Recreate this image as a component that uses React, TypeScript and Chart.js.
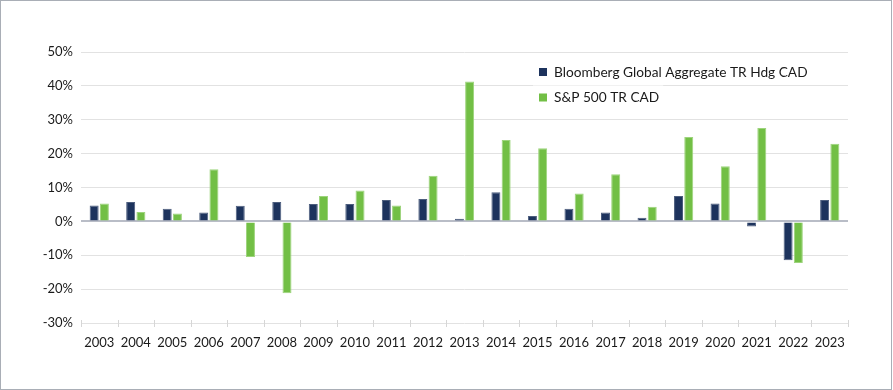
import React, { useEffect, useRef } from "react";
import { Chart, registerables } from "chart.js";

Chart.register(...registerables);

const years = ["2003","2004","2005","2006","2007","2008","2009","2010","2011","2012","2013","2014","2015","2016","2017","2018","2019","2020","2021","2022","2023"];
const bloombergLabel = "Bloomberg Global Aggregate TR Hdg CAD";
const spLabel = "S&P 500 TR CAD";
const bloomberg = [4.7, 5.7, 3.7, 2.6, 4.6, 5.7, 5.1, 5.1, 6.3, 6.6, 0.8, 8.6, 1.6, 3.7, 2.6, 1.1, 7.5, 5.3, -1.5, -11.5, 6.3];
const sp500 = [5.3, 2.8, 2.3, 15.4, -10.5, -21.2, 7.5, 9.1, 4.7, 13.5, 41.3, 24.0, 21.6, 8.2, 13.9, 4.3, 24.9, 16.3, 27.6, -12.3, 22.9];
const yMin = -30;
const yMax = 50;
const yStep = 10;

const FONT = "Lato, 'Open Sans', sans-serif";
const NAVY = "#1d335d";
const GREEN = "#72bf45";

const legendPlugin = {
  id: "insideLegend",
  afterDatasetsDraw(chart: any) {
    const ctx = chart.ctx;
    const x0 = 539;
    const y0 = 72;
    const gap = 25.5;
    ctx.save();
    ctx.font = `13.7px ${FONT}`;
    ctx.textBaseline = "middle";
    chart.data.datasets.forEach((ds: any, i: number) => {
      const y = y0 + i * gap;
      const tw = ctx.measureText(ds.label).width;
      ctx.fillStyle = "#ffffff";
      ctx.fillRect(x0 - 6, y - 12, 15 + tw + 10, 24);
      ctx.fillStyle = ds.backgroundColor;
      ctx.fillRect(x0, y - 4, 8, 8);
      ctx.fillStyle = "#1a1a1a";
      ctx.fillText(ds.label, x0 + 15, y + 0.5);
    });
    ctx.restore();
  },
};

const tickPlugin = {
  id: "boundaryTicks",
  afterDraw(chart: any) {
    const { ctx, chartArea } = chart;
    const n = chart.data.labels.length;
    const w = (chartArea.right - chartArea.left) / n;
    ctx.save();
    ctx.strokeStyle = "#d6d6d6";
    ctx.lineWidth = 1;
    for (let i = 0; i <= n; i++) {
      const x = Math.round(chartArea.left + i * w) + 0.5;
      ctx.beginPath();
      ctx.moveTo(x, chartArea.bottom - 3);
      ctx.lineTo(x, chartArea.bottom + 4);
      ctx.stroke();
    }
    ctx.restore();
  },
};

export default function App() {
  const ref = useRef<HTMLCanvasElement>(null);
  useEffect(() => {
    document.body.style.margin = "0";
    const chart = new Chart(ref.current as HTMLCanvasElement, {
      type: "bar",
      data: {
        labels: years,
        datasets: [
          {
            label: bloombergLabel,
            data: bloomberg,
            backgroundColor: NAVY,
            borderColor: "#4d5e7e",
            borderWidth: 1,
            barPercentage: 0.88,
            categoryPercentage: 0.56,
          },
          {
            label: spLabel,
            data: sp500,
            backgroundColor: GREEN,
            borderColor: "#9dd47c",
            borderWidth: 1,
            barPercentage: 0.88,
            categoryPercentage: 0.56,
          },
        ],
      },
      options: {
        responsive: false,
        animation: false,
        layout: { padding: { left: 0, right: 45, top: 52, bottom: 0 } },
        plugins: { legend: { display: false }, tooltip: { enabled: false } },
        scales: {
          x: {
            grid: { display: false, drawTicks: false },
            border: { display: false },
            ticks: { color: "#1a1a1a", font: { family: FONT, size: 13 }, padding: 12, maxRotation: 0, autoSkip: false },
            afterFit(scale: any) { scale.height = 67; },
          },
          y: {
            min: yMin,
            max: yMax,
            grid: {
              drawTicks: false,
              color: (c: any) => (c.tick && c.tick.value === 0 ? "#b9bdc7" : "#e2e2e2"),
              lineWidth: (c: any) => (c.tick && c.tick.value === 0 ? 2 : 1),
            },
            border: { display: false },
            ticks: {
              stepSize: yStep,
              color: "#1a1a1a",
              font: { family: FONT, size: 13 },
              padding: 8,
              callback: (v: any) => `${v}%`,
            },
            afterFit(scale: any) { scale.width = 81; },
          },
        },
      },
      plugins: [legendPlugin, tickPlugin],
    } as any);
    return () => chart.destroy();
  }, []);
  return (
    <div style={{ position: "relative", width: 893, height: 390 }}>
      <div style={{ position: "absolute", left: 0, top: 0, width: 892, height: 390, border: "1px solid #a9aeb6", boxSizing: "border-box" }} />
      <canvas ref={ref} width={893} height={390} style={{ position: "absolute", left: 0, top: 0 }} />
    </div>
  );
}
